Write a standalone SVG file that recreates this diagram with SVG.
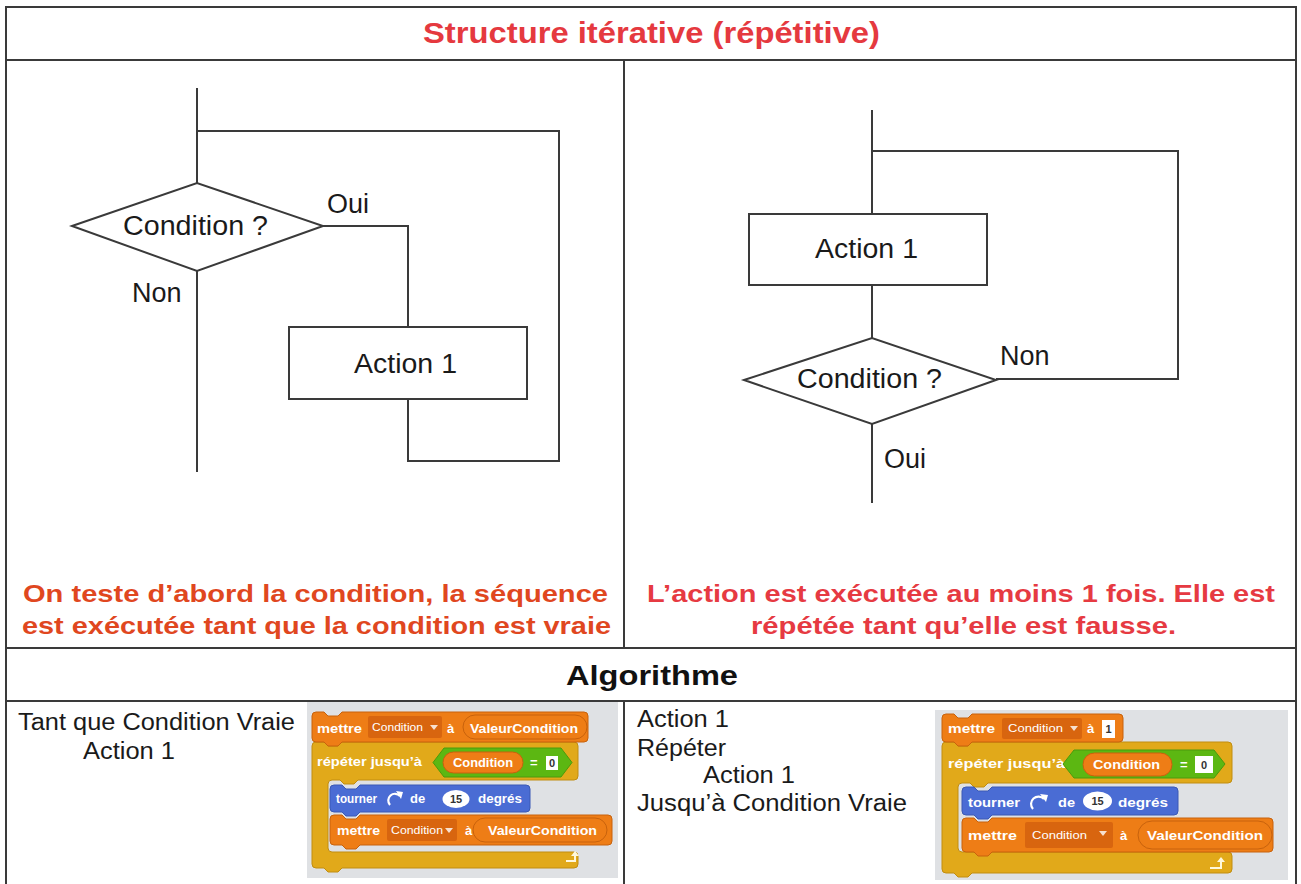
<svg xmlns="http://www.w3.org/2000/svg" width="1301" height="884" viewBox="0 0 1301 884">
<style>
.tb{stroke:#3a3a3a;stroke-width:2;fill:none}
.fl{stroke:#3a3a3a;stroke-width:2;fill:none}
.nd{stroke:#3a3a3a;stroke-width:2;fill:#fff}
.ft{font-family:"Liberation Sans",Arial,sans-serif;font-size:27px;fill:#1a1a1a}
.hd{font-family:"Liberation Sans",Arial,sans-serif;font-weight:bold}
.tx{font-family:"Liberation Sans",Arial,sans-serif;font-size:23px;fill:#1a1a1a}
.sb{font-family:"Liberation Sans",Arial,sans-serif;font-weight:bold;font-size:13px;fill:#fff}
.sd{font-family:"Liberation Sans",Arial,sans-serif;font-size:11px;fill:#fff}
.sv{font-family:"Liberation Sans",Arial,sans-serif;font-size:11px;fill:#333;font-weight:bold}
.set{fill:#ee7d16;stroke:#c8620c;stroke-width:1}
.ctl{fill:#e1a91a;stroke:#c18d10;stroke-width:1}
.mot{fill:#4a6cd4;stroke:#3a59b5;stroke-width:1}
.op{fill:#5cb712;stroke:#4a9a0c;stroke-width:1}
.dd{fill:#d8650f}
.rep{fill:#ee7d16;stroke:#c8620c;stroke-width:1}
.wb{fill:#fff}
.ic{fill:none;stroke:#fff;stroke-width:2.2}
</style>

<g id="table">
  <rect x="6" y="7" width="1290" height="900" class="tb"/>
  <line x1="6" y1="60" x2="1296" y2="60" class="tb"/>
  <line x1="6" y1="648" x2="1296" y2="648" class="tb"/>
  <line x1="6" y1="701" x2="1296" y2="701" class="tb"/>
  <line x1="624" y1="60" x2="624" y2="648" class="tb"/>
  <line x1="624" y1="701" x2="624" y2="884" class="tb"/>
</g>

<g id="title">
  <text x="423" y="43" class="hd" font-size="30" fill="#e5393f" textLength="457" lengthAdjust="spacingAndGlyphs">Structure itérative (répétitive)</text>
</g>

<g id="connectors">
  <polyline points="197,88 197,183" class="fl"/>
  <polyline points="197,131 559,131 559,461 408,461 408,399" class="fl"/>
  <polyline points="323,226 408,226 408,327" class="fl"/>
  <polyline points="197,271 197,472" class="fl"/>
  <polyline points="872,110 872,214" class="fl"/>
  <polyline points="872,151 1178,151 1178,379 996,379" class="fl"/>
  <polyline points="872,285 872,338" class="fl"/>
  <polyline points="872,424 872,503" class="fl"/>
</g>

<g id="left-condition">
  <polygon points="72,226 197,183 323,226 197,271" class="nd"/>
  <text x="123" y="235" class="ft" textLength="145" lengthAdjust="spacingAndGlyphs">Condition ?</text>
</g>
<g id="left-action">
  <rect x="289" y="327" width="238" height="72" class="nd"/>
  <text x="354" y="373" class="ft" textLength="103" lengthAdjust="spacingAndGlyphs">Action 1</text>
</g>
<g id="left-labels">
  <text x="327" y="213" class="ft">Oui</text>
  <text x="132" y="302" class="ft">Non</text>
</g>

<g id="right-action">
  <rect x="749" y="214" width="238" height="71" class="nd"/>
  <text x="815" y="258" class="ft" textLength="103" lengthAdjust="spacingAndGlyphs">Action 1</text>
</g>
<g id="right-condition">
  <polygon points="744,380 872,338 996,380 872,424" class="nd"/>
  <text x="797" y="388" class="ft" textLength="145" lengthAdjust="spacingAndGlyphs">Condition ?</text>
</g>
<g id="right-labels">
  <text x="1000" y="365" class="ft">Non</text>
  <text x="884" y="468" class="ft">Oui</text>
</g>

<g id="left-desc">
  <text x="23" y="602" class="hd" font-size="24" fill="#e0471f" textLength="585" lengthAdjust="spacingAndGlyphs">On teste d’abord la condition, la séquence</text>
  <text x="22" y="634" class="hd" font-size="24" fill="#e0471f" textLength="589" lengthAdjust="spacingAndGlyphs">est exécutée tant que la condition est vraie</text>
</g>
<g id="right-desc">
  <text x="647" y="602" class="hd" font-size="24" fill="#e63a42" textLength="628" lengthAdjust="spacingAndGlyphs">L’action est exécutée au moins 1 fois. Elle est</text>
  <text x="751" y="634" class="hd" font-size="24" fill="#e63a42" textLength="425" lengthAdjust="spacingAndGlyphs">répétée tant qu’elle est fausse.</text>
</g>

<g id="algo-header">
  <text x="566" y="685" class="hd" font-size="28" fill="#111" textLength="172" lengthAdjust="spacingAndGlyphs">Algorithme</text>
</g>

<g id="algo-left">
  <text x="18" y="730" class="tx" textLength="277" lengthAdjust="spacingAndGlyphs">Tant que Condition Vraie</text>
  <text x="83" y="759" class="tx" textLength="92" lengthAdjust="spacingAndGlyphs">Action 1</text>
</g>
<g id="algo-right">
  <text x="637" y="727" class="tx" textLength="92" lengthAdjust="spacingAndGlyphs">Action 1</text>
  <text x="637" y="756" class="tx" textLength="89" lengthAdjust="spacingAndGlyphs">Répéter</text>
  <text x="703" y="783" class="tx" textLength="92" lengthAdjust="spacingAndGlyphs">Action 1</text>
  <text x="637" y="811" class="tx" textLength="270" lengthAdjust="spacingAndGlyphs">Jusqu’à Condition Vraie</text>
</g>

<g id="scratch-left">
  <rect x="307" y="702" width="311" height="176" fill="#dfe1e4"/>
  <path class="ctl" d="M312,746 Q312,742 316,742 H324 L328,746 H338 L342,742 H574 Q578,742 578,746 V776 Q578,780 574,780 H358 L354,784 H344 L340,780 H332 Q328,780 328,784 V848 Q328,852 332,852 H574 Q578,852 578,856 V864 Q578,868 574,868 H342 L338,872 H328 L324,868 H316 Q312,868 312,864 Z"/>
  <path class="set" d="M312,716 Q312,712 316,712 H324 L328,716 H338 L342,712 H584 Q588,712 588,716 V738 Q588,742 584,742 H342 L338,746 H328 L324,742 H316 Q312,742 312,738 Z"/>
  <text x="317" y="733" class="sb" textLength="45" lengthAdjust="spacingAndGlyphs">mettre</text>
  <rect x="368" y="716" width="74" height="22" rx="2" class="dd"/>
  <text x="372" y="731" class="sd" textLength="51" lengthAdjust="spacingAndGlyphs">Condition</text>
  <polygon points="430,725 438,725 434,730" fill="#fff" opacity="0.8"/>
  <text x="447" y="733" class="sb">à</text>
  <rect x="463" y="715" width="124" height="24" rx="12" class="rep"/>
  <text x="470" y="733" class="sb" textLength="108" lengthAdjust="spacingAndGlyphs">ValeurCondition</text>
  <text x="317" y="766" class="sb" fill="#fff8dc" textLength="105" lengthAdjust="spacingAndGlyphs">répéter jusqu’à</text>
  <polygon class="op" points="433,762.5 444,748 561,748 572,762.5 561,777 444,777"/>
  <rect x="443" y="752" width="80" height="21" rx="10.5" class="rep"/>
  <text x="453" y="767" class="sb" textLength="60" lengthAdjust="spacingAndGlyphs">Condition</text>
  <text x="530" y="767" class="sb">=</text>
  <rect x="546" y="756" width="12" height="14" class="wb"/>
  <text x="552" y="767" class="sv" text-anchor="middle">0</text>
  <path class="mot" d="M330,789 Q330,785 334,785 H342 L346,789 H356 L360,785 H526 Q530,785 530,789 V808 Q530,812 526,812 H360 L356,816 H346 L342,812 H334 Q330,812 330,808 Z"/>
  <text x="336" y="803" class="sb" textLength="41" lengthAdjust="spacingAndGlyphs">tourner</text>
  <path class="ic" d="M390,805 A6.5,6.5 0 1 1 400,796"/>
  <polygon points="396,791 403,792 401,799" fill="#fff"/>
  <text x="410" y="803" class="sb">de</text>
  <ellipse cx="456" cy="799" rx="13.5" ry="9" class="wb"/>
  <text x="456" y="803" class="sv" text-anchor="middle">15</text>
  <text x="478" y="803" class="sb" textLength="44" lengthAdjust="spacingAndGlyphs">degrés</text>
  <path class="set" d="M330,819 Q330,815 334,815 H342 L346,819 H356 L360,815 H608 Q612,815 612,819 V841 Q612,845 608,845 H360 L356,849 H346 L342,845 H334 Q330,845 330,841 Z"/>
  <text x="337" y="835" class="sb" textLength="43" lengthAdjust="spacingAndGlyphs">mettre</text>
  <rect x="387" y="819" width="70" height="22" rx="2" class="dd"/>
  <text x="391" y="834" class="sd" textLength="52" lengthAdjust="spacingAndGlyphs">Condition</text>
  <polygon points="445,828 453,828 449,833" fill="#fff" opacity="0.8"/>
  <text x="465" y="835" class="sb">à</text>
  <rect x="473" y="818" width="134" height="24" rx="12" class="rep"/>
  <text x="488" y="835" class="sb" textLength="109" lengthAdjust="spacingAndGlyphs">ValeurCondition</text>
  <path d="M566,861 H575 V855" fill="none" stroke="#fff8dc" stroke-width="2"/>
  <polygon points="571,856 579,856 575,851" fill="#fff8dc"/>
</g>

<g id="scratch-right">
  <rect x="935" y="710" width="353" height="170" fill="#dfe1e4"/>
  <path class="ctl" d="M942,746 Q942,742 946,742 H954 L958,746 H968 L972,742 H1228 Q1232,742 1232,746 V779 Q1232,783 1228,783 H988 L984,787 H974 L970,783 H962 Q958,783 958,787 V848 Q958,852 962,852 H1228 Q1232,852 1232,856 V869 Q1232,873 1228,873 H972 L968,877 H958 L954,873 H946 Q942,873 942,869 Z"/>
  <path class="set" d="M942,718 Q942,714 946,714 H954 L958,718 H968 L972,714 H1119 Q1123,714 1123,718 V738 Q1123,742 1119,742 H972 L968,746 H958 L954,742 H946 Q942,742 942,738 Z"/>
  <text x="948" y="733" class="sb" textLength="47" lengthAdjust="spacingAndGlyphs">mettre</text>
  <rect x="1002" y="718" width="80" height="21" rx="2" class="dd"/>
  <text x="1008" y="732" class="sd" textLength="55" lengthAdjust="spacingAndGlyphs">Condition</text>
  <polygon points="1070,726 1078,726 1074,731" fill="#fff" opacity="0.8"/>
  <text x="1087" y="733" class="sb">à</text>
  <rect x="1102" y="720" width="13" height="18" class="wb"/>
  <text x="1108.5" y="733" class="sv" text-anchor="middle">1</text>
  <text x="948" y="768" class="sb" fill="#fff8dc" textLength="117" lengthAdjust="spacingAndGlyphs">répéter jusqu’à</text>
  <polygon class="op" points="1063,764 1074,750 1214,750 1225,764 1214,778 1074,778"/>
  <rect x="1083" y="753" width="89" height="23" rx="11.5" class="rep"/>
  <text x="1093" y="769" class="sb" textLength="67" lengthAdjust="spacingAndGlyphs">Condition</text>
  <text x="1180" y="769" class="sb">=</text>
  <rect x="1195" y="756" width="18" height="17" class="wb"/>
  <text x="1204" y="769" class="sv" text-anchor="middle">0</text>
  <path class="mot" d="M962,791 Q962,787 966,787 H974 L978,791 H988 L992,787 H1174 Q1178,787 1178,791 V811 Q1178,815 1174,815 H992 L988,819 H978 L974,815 H966 Q962,815 962,811 Z"/>
  <text x="968" y="807" class="sb" textLength="52" lengthAdjust="spacingAndGlyphs">tourner</text>
  <path class="ic" d="M1033,809 A7,7 0 1 1 1044,799"/>
  <polygon points="1040,794 1048,795 1046,802" fill="#fff"/>
  <text x="1058" y="807" class="sb" textLength="17" lengthAdjust="spacingAndGlyphs">de</text>
  <ellipse cx="1097.5" cy="801" rx="14.5" ry="9.5" class="wb"/>
  <text x="1097.5" y="805" class="sv" text-anchor="middle">15</text>
  <text x="1118" y="807" class="sb" textLength="50" lengthAdjust="spacingAndGlyphs">degrés</text>
  <path class="set" d="M962,822 Q962,818 966,818 H974 L978,822 H988 L992,818 H1269 Q1273,818 1273,822 V848 Q1273,852 1269,852 H992 L988,856 H978 L974,852 H966 Q962,852 962,848 Z"/>
  <text x="968" y="840" class="sb" textLength="49" lengthAdjust="spacingAndGlyphs">mettre</text>
  <rect x="1025" y="822" width="88" height="26" rx="2" class="dd"/>
  <text x="1032" y="839" class="sd" textLength="55" lengthAdjust="spacingAndGlyphs">Condition</text>
  <polygon points="1099,831 1107,831 1103,836" fill="#fff" opacity="0.8"/>
  <text x="1120" y="840" class="sb">à</text>
  <rect x="1138" y="821" width="134" height="28" rx="14" class="rep"/>
  <text x="1147" y="840" class="sb" textLength="116" lengthAdjust="spacingAndGlyphs">ValeurCondition</text>
  <path d="M1210,868 H1221 V861" fill="none" stroke="#fff8dc" stroke-width="2"/>
  <polygon points="1217,862 1225,862 1221,857" fill="#fff8dc"/>
</g>
</svg>
